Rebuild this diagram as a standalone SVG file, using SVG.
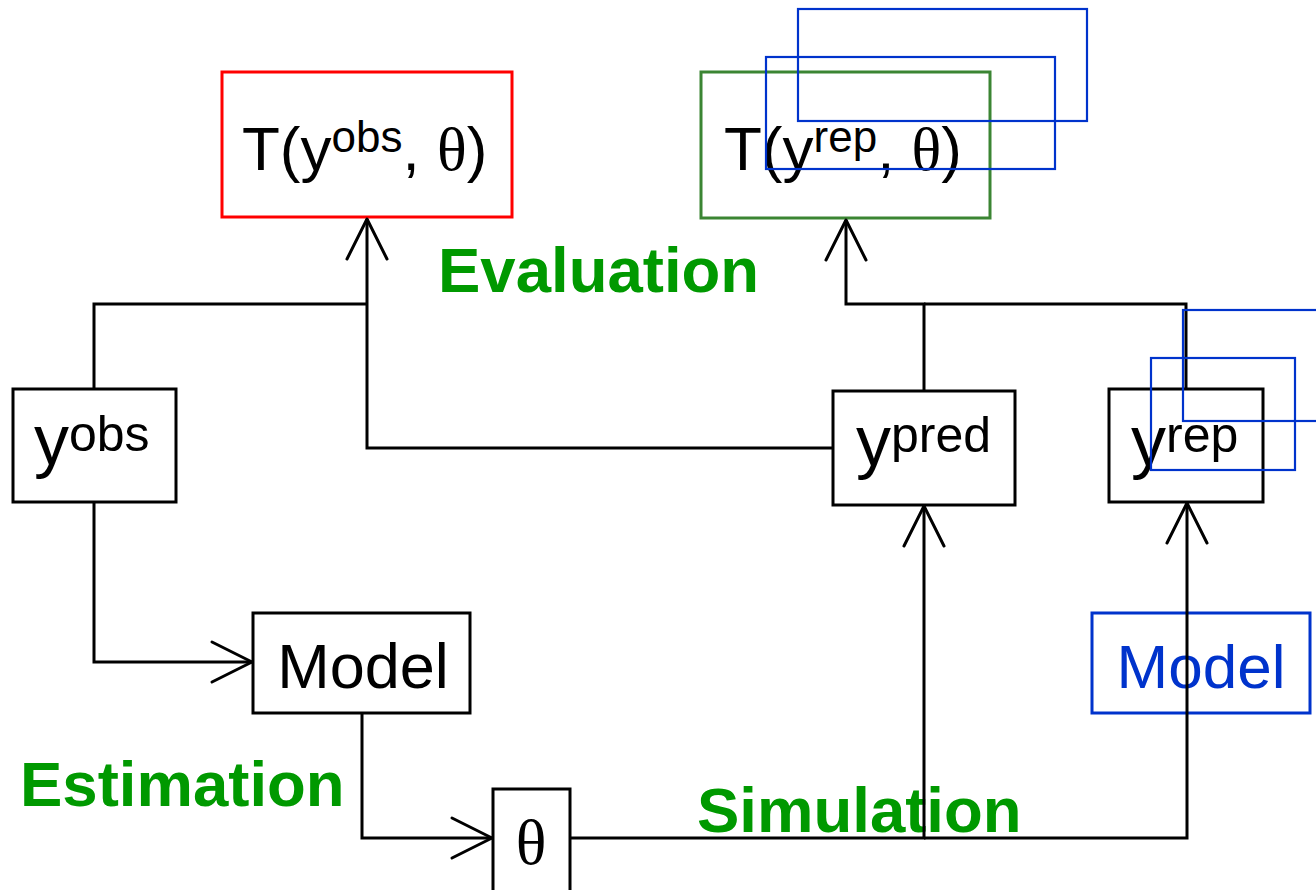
<svg xmlns="http://www.w3.org/2000/svg" width="1316" height="890" viewBox="0 0 1316 890">
  <style>
    .box { fill: #ffffff; stroke: #000000; stroke-width: 3; }
    .red { fill: #ffffff; stroke: #ff0000; stroke-width: 3; }
    .green { fill: #ffffff; stroke: #3b8533; stroke-width: 3; }
    .copy { fill: none; stroke: #0033cc; stroke-width: 2.2; }
    .bluebox { fill: #ffffff; stroke: #0033cc; stroke-width: 3; }
    .wire { fill: none; stroke: #000000; stroke-width: 3; stroke-linejoin: miter; }
    .arrow { marker-end: url(#open); }
    .t { font-family: "Liberation Sans", Arial, sans-serif; fill: #000000; }
    .sym { font-family: "Liberation Serif", "Times New Roman", serif; }
    .lab { font-family: "Liberation Sans", Arial, sans-serif; font-weight: bold; fill: #009900; font-size: 63.5px; }
  </style>
  <defs>
    <marker id="open" markerUnits="userSpaceOnUse" markerWidth="60" markerHeight="60" viewBox="-50 -30 60 60" refX="0" refY="0" orient="auto">
      <path d="M-40,-20 L0,0 L-40,20" fill="none" stroke="#000000" stroke-width="3" stroke-linecap="round" stroke-linejoin="round"/>
    </marker>
  </defs>

  <!-- statistic on observed data -->
  <g id="T_obs">
    <rect class="red" x="222" y="72" width="290" height="145"/>
    <text class="t" x="242" y="170" font-size="62">T(y<tspan font-size="44" y="152">obs</tspan><tspan y="170">, </tspan><tspan class="sym">θ</tspan>)</text>
  </g>

  <!-- statistic on replicated data -->
  <g id="T_rep">
    <rect class="green" x="701" y="72" width="289" height="146"/>
    <text class="t" x="724" y="170" font-size="62">T(y<tspan font-size="44" y="152">rep</tspan><tspan y="170">, </tspan><tspan class="sym">θ</tspan>)</text>
  </g>

  <g id="y_obs">
    <rect class="box" x="13" y="389" width="163" height="113"/>
    <text class="t" x="34" y="464" font-size="70">y<tspan font-size="50" y="451">obs</tspan></text>
  </g>

  <g id="y_pred">
    <rect class="box" x="833" y="391" width="182" height="114"/>
    <text class="t" x="856" y="465" font-size="70">y<tspan font-size="50" y="452">pred</tspan></text>
  </g>

  <g id="y_rep">
    <rect class="box" x="1109" y="389" width="154" height="113"/>
    <text class="t" x="1131" y="465" font-size="70">y<tspan font-size="50" y="452">rep</tspan></text>
  </g>

  <g id="model">
    <rect class="box" x="253" y="613" width="217" height="100"/>
    <text class="t" x="363" y="688" font-size="63" text-anchor="middle">Model</text>
  </g>

  <g id="model_rep">
    <rect class="bluebox" x="1092" y="613" width="218" height="100"/>
    <text class="t" x="1201" y="688" font-size="62" text-anchor="middle" style="fill:#0033cc">Model</text>
  </g>

  <g id="theta">
    <rect class="box" x="493" y="789" width="77" height="110"/>
    <text class="t sym" x="531" y="864" font-size="64" text-anchor="middle">θ</text>
  </g>

  <!-- stage labels -->
  <g id="labels">
    <text class="lab" x="438" y="292">Evaluation</text>
    <text class="lab" x="20" y="806">Estimation</text>
    <text class="lab" x="697" y="832">Simulation</text>
  </g>

  <g id="connectors">
    <path class="wire" d="M94,389 V304 H367"/>
    <path class="wire arrow" d="M833,448 H367 V219"/>
    <path class="wire" d="M1186,389 V304 H924"/>
    <path class="wire arrow" d="M924,391 V304 H846 V220"/>
    <path class="wire arrow" d="M94,502 V662 H252"/>
    <path class="wire arrow" d="M362,713 V838 H492"/>
    <path class="wire arrow" d="M570,838 H924 V506"/>
    <path class="wire arrow" d="M924,838 H1187 V503"/>
  </g>

  <!-- stacked copies behind the replicated quantities -->
  <g id="rep_copies">
    <rect class="copy" x="798" y="9" width="289" height="112"/>
    <rect class="copy" x="766" y="57" width="289" height="112"/>
    <rect class="copy" x="1183" y="310" width="144" height="111"/>
    <rect class="copy" x="1151" y="358" width="144" height="112"/>
  </g>
</svg>
